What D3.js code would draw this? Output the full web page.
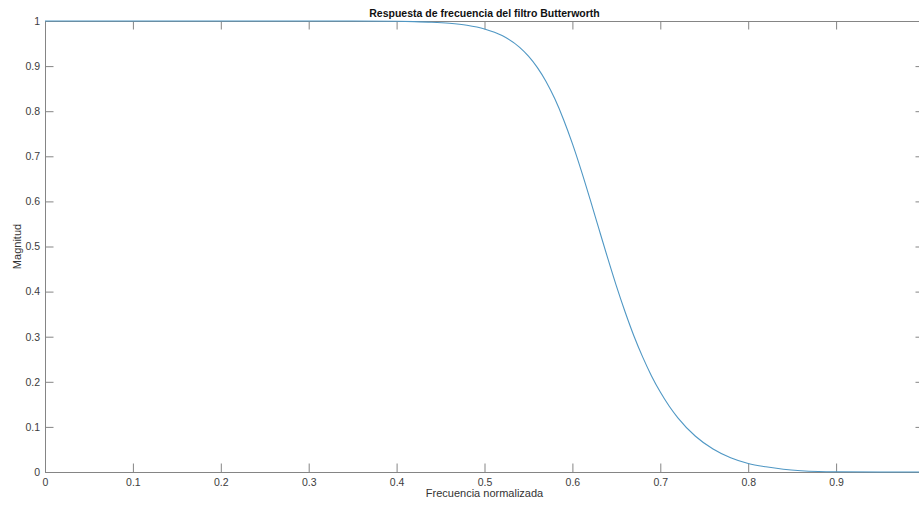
<!DOCTYPE html>
<html lang="es">
<head>
<meta charset="UTF-8">
<title>Respuesta de frecuencia del filtro Butterworth</title>
<script src="https://d3js.org/d3.v7.min.js"></script>
<style>
  body { margin: 0; background: #fff; }
  text { font-family: "Liberation Sans", Arial, sans-serif; }
</style>
</head>
<body>
<div id="chart"></div>
<script>
// values
const freq = [0, 0.1, 0.2, 0.3, 0.35, 0.40, 0.42, 0.44, 0.46, 0.48, 0.50, 0.52, 0.54, 0.55, 0.56, 0.57, 0.58, 0.59, 0.60, 0.61, 0.62, 0.63, 0.64, 0.65, 0.66, 0.67, 0.68, 0.69, 0.70, 0.71, 0.72, 0.74, 0.76, 0.78, 0.80, 0.82, 0.84, 0.86, 0.88, 0.90, 0.95, 1.0];
const mag  = [1, 1, 1, 1, 0.9999, 0.9993, 0.9986, 0.9973, 0.9949, 0.9905, 0.9823, 0.9676, 0.9415, 0.9221, 0.8973, 0.8660, 0.8274, 0.7812, 0.7280, 0.6688, 0.6054, 0.5400, 0.4752, 0.4127, 0.3548, 0.3016, 0.2547, 0.2131, 0.1773, 0.1464, 0.1202, 0.0793, 0.0510, 0.0317, 0.0190, 0.0115, 0.0061, 0.0029, 0.0012, 0.0005, 0, 0];
const xTicks = [0, 0.1, 0.2, 0.3, 0.4, 0.5, 0.6, 0.7, 0.8, 0.9];
const yTicks = [0, 0.1, 0.2, 0.3, 0.4, 0.5, 0.6, 0.7, 0.8, 0.9, 1];

const W = 919, H = 505;
const margin = {top: 21, left: 45},
  width = 879, height = 451;

const svg = d3.select("#chart").append("svg")
  .attr("width", W).attr("height", H);

const g = svg.append("g")
  .attr("transform", `translate(${margin.left},${margin.top})`);

const x = d3.scaleLinear().domain([0, 1]).range([0, width]);
const y = d3.scaleLinear().domain([0, 1]).range([height, 0]);

const axisColor = "#858585";
const tick = 8.5;

function style(sel) {
  sel.selectAll("path.domain").attr("stroke", axisColor);
  sel.selectAll(".tick line").attr("stroke", axisColor);
  sel.selectAll(".tick text").attr("fill", "#3c3c3c").attr("font-size", 10.5);
}

// bottom
g.append("g")
  .attr("transform", `translate(0,${height})`)
  .call(d3.axisBottom(x).tickValues(xTicks).tickFormat(d3.format("~g"))
    .tickSize(-tick).tickSizeOuter(0).tickPadding(7))
  .call(style);

// top
g.append("g")
  .call(d3.axisTop(x).tickValues(xTicks).tickFormat("")
    .tickSize(-tick).tickSizeOuter(0))
  .call(style);

// left
g.append("g")
  .call(d3.axisLeft(y).tickValues(yTicks).tickFormat(d3.format("~g"))
    .tickSize(-tick).tickSizeOuter(0).tickPadding(5))
  .call(style);

// right
g.append("g")
  .attr("transform", `translate(${width},0)`)
  .call(d3.axisRight(y).tickValues(yTicks).tickFormat("")
    .tickSize(-tick).tickSizeOuter(0))
  .call(style);

// curve
const line = d3.line()
  .x((d, i) => x(freq[i]))
  .y(d => y(d))
  .curve(d3.curveMonotoneX);

g.append("path")
  .datum(mag)
  .attr("fill", "none")
  .attr("stroke", "#4f97c4")
  .attr("stroke-width", 1.1)
  .attr("d", line);

// title and labels
svg.append("text")
  .attr("x", margin.left + width / 2)
  .attr("y", 17)
  .attr("text-anchor", "middle")
  .attr("font-size", 10.5)
  .attr("font-weight", "bold")
  .attr("fill", "#111")
  .text("Respuesta de frecuencia del filtro Butterworth");

svg.append("text")
  .attr("x", margin.left + width / 2)
  .attr("y", 497)
  .attr("text-anchor", "middle")
  .attr("font-size", 11)
  .attr("fill", "#333")
  .text("Frecuencia normalizada");

svg.append("text")
  .attr("transform", `translate(21,${margin.top + height / 2}) rotate(-90)`)
  .attr("text-anchor", "middle")
  .attr("font-size", 11)
  .attr("fill", "#333")
  .text("Magnitud");
</script>
</body>
</html>
